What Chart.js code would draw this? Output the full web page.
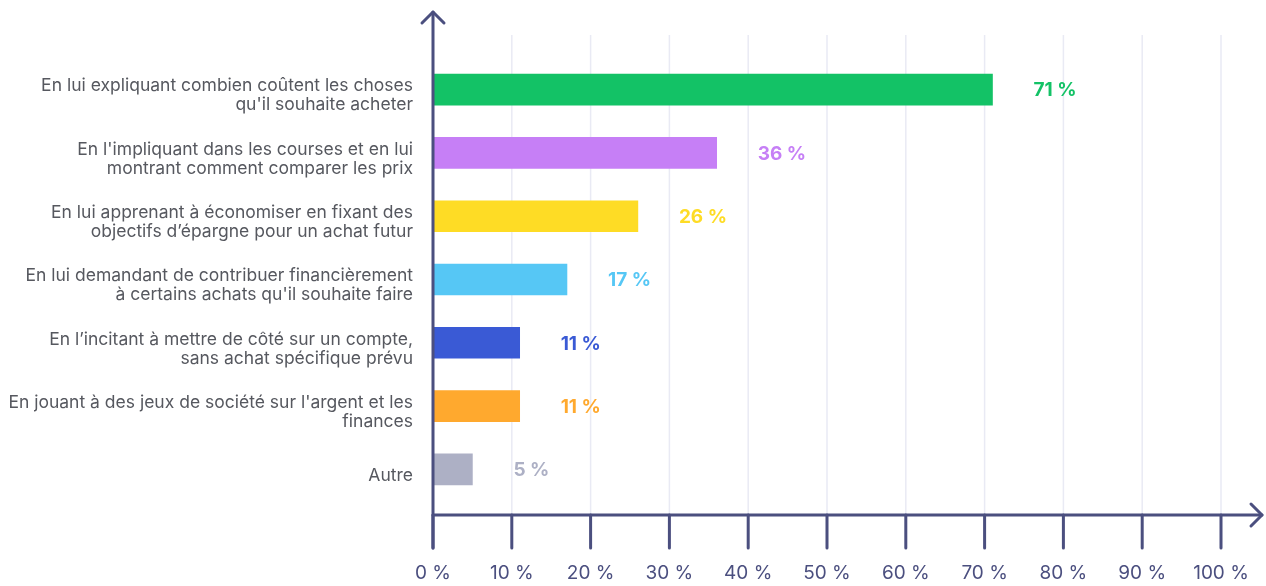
<!DOCTYPE html>
<html>
<head>
<meta charset="utf-8">
<script src="https://cdn.jsdelivr.net/npm/chart.js@4"></script>
<style>
  html, body { margin: 0; padding: 0; background: #fff; }
  #wrap { width: 1266px; height: 586px; position: relative; }
</style>
</head>
<body>
<div id="wrap"><canvas id="chart"></canvas></div>
<script>
// chart data
var categories = [
  ['En lui expliquant combien coûtent les choses', "qu'il souhaite acheter"],
  ["En l'impliquant dans les courses et en lui", 'montrant comment comparer les prix'],
  ['En lui apprenant à économiser en fixant des', 'objectifs d’épargne pour un achat futur'],
  ['En lui demandant de contribuer financièrement', "à certains achats qu'il souhaite faire"],
  ['En l’incitant à mettre de côté sur un compte,', 'sans achat spécifique prévu'],
  ["En jouant à des jeux de société sur l'argent et les", 'finances'],
  ['Autre']
];
var values = [71, 36, 26, 17, 11, 11, 5];
var barColors = ['#13c266', '#c67ff6', '#fedc25', '#56c7f5', '#3a5ad5', '#ffa92e', '#adb0c5'];
var xTicks = [0, 10, 20, 30, 40, 50, 60, 70, 80, 90, 100];

var AXIS = '#4b4f7f';
var FONT = 'Inter, "Open Sans", sans-serif';

// axes with arrows, gridlines and value labels
var decor = {
  id: 'decor',
  beforeDatasetsDraw: function (chart) {
    var c = chart.ctx, xs = chart.scales.x, area = chart.chartArea;
    var baseY = area.bottom + 14;
    c.save();
    c.strokeStyle = '#e9eaf4';
    c.lineWidth = 1.5;
    xTicks.forEach(function (t) {
      if (t === 0) return;
      var x = xs.getPixelForValue(t);
      c.beginPath();
      c.moveTo(x, 35);
      c.lineTo(x, baseY);
      c.stroke();
    });
    c.restore();
  },
  afterDatasetsDraw: function (chart) {
    var c = chart.ctx, xs = chart.scales.x, area = chart.chartArea;
    var x0 = xs.getPixelForValue(0);
    var baseY = area.bottom + 14;
    c.save();
    c.strokeStyle = AXIS;
    c.lineWidth = 3;
    c.lineCap = 'round';
    c.lineJoin = 'round';
    // vertical axis
    c.beginPath();
    c.moveTo(x0, 548);
    c.lineTo(x0, 12);
    c.stroke();
    c.beginPath();
    c.moveTo(x0 - 11, 23);
    c.lineTo(x0, 12);
    c.lineTo(x0 + 11, 23);
    c.stroke();
    // horizontal axis
    c.beginPath();
    c.moveTo(x0, baseY);
    c.lineTo(1262, baseY);
    c.stroke();
    c.beginPath();
    c.moveTo(1251, baseY - 11);
    c.lineTo(1262, baseY);
    c.lineTo(1251, baseY + 11);
    c.stroke();
    // ticks
    xTicks.forEach(function (t) {
      var x = xs.getPixelForValue(t);
      c.beginPath();
      c.moveTo(x, baseY);
      c.lineTo(x, 548);
      c.stroke();
    });
    // value labels
    var meta = chart.getDatasetMeta(0);
    c.font = 'bold 19px ' + FONT;
    c.textBaseline = 'middle';
    c.textAlign = 'left';
    meta.data.forEach(function (bar, i) {
      c.fillStyle = barColors[i];
      c.fillText(values[i] + ' %', bar.x + 41, bar.y + 1);
    });
    c.restore();
  }
};

new Chart(document.getElementById('chart'), {
  type: 'bar',
  data: {
    labels: categories,
    datasets: [{
      data: values,
      backgroundColor: barColors,
      barThickness: 31,
      borderWidth: 0
    }]
  },
  options: {
    indexAxis: 'y',
    responsive: true,
    maintainAspectRatio: false,
    animation: false,
    layout: { padding: { top: 58, right: 45, left: 0, bottom: 0 } },
    plugins: {
      legend: { display: false },
      tooltip: { enabled: false }
    },
    scales: {
      x: {
        min: 0,
        max: 100,
        afterFit: function (s) {
          s.height = 85;
          s.paddingLeft = 0;
          s.paddingRight = 0;
        },
        afterBuildTicks: function (s) {
          s.ticks = xTicks.map(function (v) { return { value: v }; });
        },
        grid: { display: false, drawTicks: false },
        border: { display: false },
        ticks: {
          padding: 61,
          color: AXIS,
          font: { family: FONT, size: 19 },
          callback: function (v) { return v + ' %'; }
        }
      },
      y: {
        afterFit: function (s) {
          s.width = 433;
          s.paddingTop = 0;
          s.paddingBottom = 0;
        },
        grid: { display: false, drawTicks: false },
        border: { display: false },
        ticks: {
          padding: 20,
          labelOffset: 6,
          color: '#56585f',
          font: { family: FONT, size: 17.5, lineHeight: '19px' }
        }
      }
    }
  },
  plugins: [decor]
});
</script>
</body>
</html>
